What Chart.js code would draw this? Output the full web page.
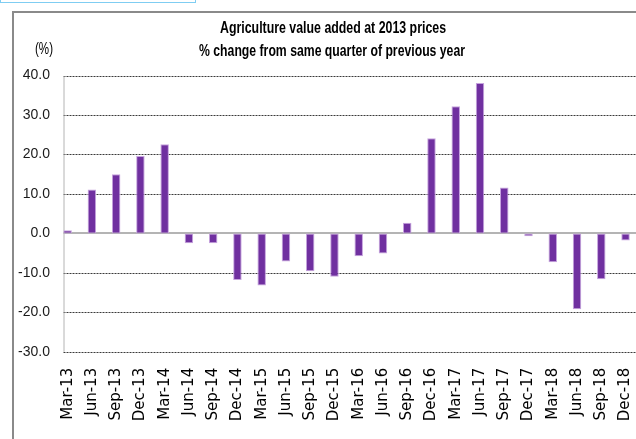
<!DOCTYPE html>
<html>
<head>
<meta charset="utf-8">
<script src="https://cdn.jsdelivr.net/npm/chart.js@4.4.1/dist/chart.umd.min.js"></script>
<style>
  html, body { margin: 0; padding: 0; background: #fff; overflow: hidden; }
  #wrap { width: 660px; height: 439px; }
</style>
</head>
<body>
<div id="wrap"><canvas id="grafico" width="660" height="439"></canvas></div>
<script>
// quarters
const quarters = [
  "Mar-13", "Jun-13", "Sep-13", "Dec-13",
  "Mar-14", "Jun-14", "Sep-14", "Dec-14",
  "Mar-15", "Jun-15", "Sep-15", "Dec-15",
  "Mar-16", "Jun-16", "Sep-16", "Dec-16",
  "Mar-17", "Jun-17", "Sep-17", "Dec-17",
  "Mar-18", "Jun-18", "Sep-18", "Dec-18"
];

// % change from same quarter of previous year
const yoyChange = [
  0.8, 11.1, 15.0, 19.6,
  22.6, -2.5, -2.5, -11.8,
  -13.2, -7.1, -9.6, -11.0,
  -5.8, -5.1, 2.7, 24.1,
  32.2, 38.1, 11.6, -0.7,
  -7.3, -19.2, -11.6, -1.8
];

const titleLines = [
  "Agriculture value added at 2013 prices",
  "% change from same quarter of previous year"
];
const unitLabel = "(%)";

const yMin = -30;
const yMax = 40;
const yStep = 10;

const sans = '"Liberation Sans", Arial, sans-serif';

// text squeezed to a given width (narrow look)
function narrowText(ctx, text, cx, cy, width) {
  const w = ctx.measureText(text).width;
  const k = Math.min(1, width / w);
  ctx.save();
  ctx.translate(cx, cy);
  ctx.scale(k, 1);
  ctx.fillText(text, 0, 0);
  ctx.restore();
}

// frame, title, dashed grid and axis lines
const decor = {
  id: "decor",
  beforeDraw(chart) {
    const ctx = chart.ctx;
    ctx.save();
    ctx.fillStyle = "#ffffff";
    ctx.fillRect(0, 0, chart.width, chart.height);

    // selection box left over in the top corner
    ctx.strokeStyle = "#7fcdf2";
    ctx.lineWidth = 1;
    ctx.strokeRect(0.5, -4, 195, 6.5);

    // outer border
    ctx.strokeStyle = "#8a8a8a";
    ctx.lineWidth = 2;
    ctx.beginPath();
    ctx.moveTo(13, chart.height + 2);
    ctx.lineTo(13, 12);
    ctx.lineTo(chart.width + 2, 12);
    ctx.stroke();

    // title
    ctx.fillStyle = "#000";
    ctx.textAlign = "center";
    ctx.textBaseline = "middle";
    ctx.font = "bold 16px " + sans;
    narrowText(ctx, titleLines[0], 333, 29, 226);
    narrowText(ctx, titleLines[1], 332, 52, 266);

    ctx.font = "16px " + sans;
    narrowText(ctx, unitLabel, 44, 50, 18);
    ctx.restore();
  },
  beforeDatasetsDraw(chart) {
    const ctx = chart.ctx;
    const area = chart.chartArea;
    const y = chart.scales.y;
    const gridLeft = area.left + 8;
    ctx.save();
    ctx.strokeStyle = "#3a3a3a";
    ctx.lineWidth = 1;
    ctx.setLineDash([2, 1]);
    for (let v = yMin; v <= yMax; v += yStep) {
      if (v === 0) continue;
      const py = Math.round(y.getPixelForValue(v)) + 0.5;
      ctx.beginPath();
      ctx.moveTo(gridLeft, py);
      ctx.lineTo(area.right, py);
      ctx.stroke();
    }
    ctx.setLineDash([]);
    const zero = Math.round(y.getPixelForValue(0));
    ctx.strokeStyle = "#b4b4b4";
    ctx.beginPath();
    ctx.moveTo(gridLeft + 0.5, Math.round(y.getPixelForValue(yMax)));
    ctx.lineTo(gridLeft + 0.5, y.getPixelForValue(yMin));
    ctx.stroke();
    ctx.lineWidth = 2;
    ctx.beginPath();
    ctx.moveTo(gridLeft, zero);
    ctx.lineTo(area.right, zero);
    ctx.stroke();
    ctx.restore();
  }
};

new Chart(document.getElementById("grafico"), {
  type: "bar",
  data: {
    labels: quarters,
    datasets: [{
      label: "Agriculture value added",
      data: yoyChange,
      backgroundColor: "#7030a0",
      borderColor: "#c6a3de",
      borderWidth: 1,
      borderSkipped: false,
      barPercentage: 0.35,
      categoryPercentage: 1
    }]
  },
  options: {
    responsive: false,
    animation: false,
    layout: { padding: { top: 75.5, left: 0, right: 22, bottom: 0 } },
    plugins: {
      legend: { display: false },
      tooltip: { enabled: false }
    },
    scales: {
      x: {
        grid: { display: false, drawTicks: false },
        border: { display: false },
        ticks: {
          minRotation: 90,
          maxRotation: 90,
          autoSkip: false,
          padding: 16,
          color: "#000",
          font: { family: '"DejaVu Sans", sans-serif', size: 15 }
        },
        afterFit(scale) { scale.height = 439 - 351.8; }
      },
      y: {
        min: yMin,
        max: yMax,
        grid: { display: false, drawTicks: false },
        border: { display: false },
        ticks: {
          stepSize: yStep,
          padding: 5.5,
          color: "#1a1a1a",
          font: { family: sans, size: 14 },
          callback: v => v.toFixed(1)
        },
        afterFit(scale) { scale.width = 55.5; }
      }
    }
  },
  plugins: [decor]
});
</script>
</body>
</html>
